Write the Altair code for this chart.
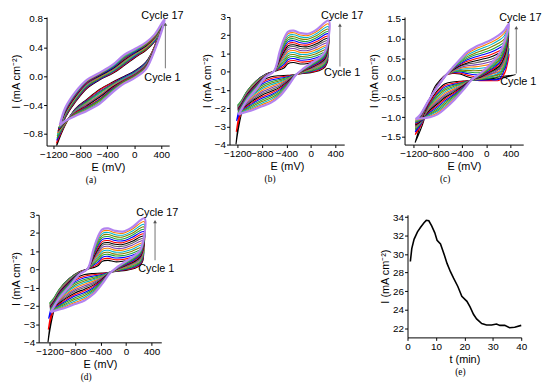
import altair as alt
import pandas as pd

FONT = "Liberation Sans"
Y_TITLE = "I (mA cm⁻²)"
E_TICKS = [-1200, -800, -400, 0, 400]
PALETTE = ["#000000", "#FF0000", "#0000FF", "#1FA33A", "#808000", "#00B5C8", "#FF8000", "#7A3FB0",
           "#606060", "#000000", "#FF0000", "#0000FF", "#1FA33A", "#808000", "#00B5C8", "#FF8000", "#B383F0"]

# ---------------- panel (a) ----------------
A_LT_E = [-1160, -1156, -1151, -1148, -1145, -1142, -1139, -1135, -1132, -1129, -1126, -1122, -1119, -1116, -1113, -1110, -1107]
A_LT_I = [-0.98, -0.93, -0.89, -0.86, -0.83, -0.81, -0.79, -0.77, -0.76, -0.75, -0.74, -0.73, -0.72, -0.71, -0.70, -0.69, -0.68]
A_RT_E = [357, 363, 370, 376, 383, 389, 394, 400, 405, 410, 416, 421, 426, 432, 437, 444, 450]
A_RT_I = [0.60, 0.61, 0.62, 0.63, 0.64, 0.65, 0.66, 0.67, 0.68, 0.69, 0.70, 0.71, 0.72, 0.74, 0.75, 0.77, 0.79]
A_UP_E = [-1027, -877, -705, -512, -319, -147, 13, 174, 303]
A_UP = [
    [-0.58, -0.57, -0.56, -0.55, -0.54, -0.53, -0.52, -0.51, -0.50, -0.50, -0.49, -0.48, -0.47, -0.46, -0.46, -0.45, -0.44],
    [-0.36, -0.35, -0.34, -0.33, -0.32, -0.31, -0.30, -0.29, -0.28, -0.28, -0.27, -0.26, -0.25, -0.24, -0.24, -0.23, -0.22],
    [-0.17, -0.16, -0.15, -0.14, -0.13, -0.12, -0.11, -0.11, -0.10, -0.09, -0.09, -0.08, -0.07, -0.07, -0.06, -0.06, -0.05],
    [-0.05, -0.04, -0.04, -0.03, -0.02, -0.01, -0.01, 0.00, 0.00, 0.01, 0.02, 0.02, 0.03, 0.03, 0.04, 0.04, 0.05],
    [0.04, 0.05, 0.06, 0.07, 0.08, 0.08, 0.09, 0.10, 0.10, 0.11, 0.12, 0.12, 0.13, 0.14, 0.14, 0.15, 0.16],
    [0.15, 0.16, 0.17, 0.18, 0.19, 0.20, 0.21, 0.22, 0.22, 0.23, 0.24, 0.25, 0.26, 0.27, 0.28, 0.29, 0.30],
    [0.26, 0.27, 0.28, 0.29, 0.30, 0.30, 0.31, 0.32, 0.32, 0.33, 0.34, 0.34, 0.35, 0.36, 0.36, 0.37, 0.38],
    [0.36, 0.37, 0.38, 0.38, 0.39, 0.40, 0.40, 0.41, 0.42, 0.42, 0.43, 0.44, 0.44, 0.45, 0.46, 0.46, 0.47],
    [0.48, 0.49, 0.49, 0.50, 0.51, 0.51, 0.52, 0.53, 0.53, 0.54, 0.54, 0.55, 0.55, 0.56, 0.57, 0.57, 0.58],
]
A_LO_E = [303, 174, 13, -147, -319, -512, -705, -877, -1027]
A_LO = [
    [0.42, 0.42, 0.41, 0.41, 0.41, 0.40, 0.40, 0.40, 0.39, 0.39, 0.39, 0.38, 0.38, 0.37, 0.37, 0.37, 0.36],
    [0.20, 0.19, 0.19, 0.18, 0.17, 0.17, 0.16, 0.16, 0.15, 0.14, 0.14, 0.13, 0.13, 0.12, 0.11, 0.11, 0.10],
    [0.08, 0.07, 0.07, 0.06, 0.05, 0.05, 0.04, 0.04, 0.03, 0.02, 0.02, 0.01, 0.01, 0.00, -0.01, -0.01, -0.02],
    [0.00, -0.01, -0.01, -0.02, -0.03, -0.03, -0.04, -0.04, -0.05, -0.06, -0.06, -0.07, -0.07, -0.08, -0.09, -0.09, -0.10],
    [-0.08, -0.09, -0.10, -0.11, -0.11, -0.12, -0.13, -0.14, -0.15, -0.15, -0.16, -0.17, -0.18, -0.19, -0.20, -0.21, -0.22],
    [-0.18, -0.19, -0.21, -0.22, -0.23, -0.24, -0.26, -0.27, -0.28, -0.29, -0.31, -0.32, -0.33, -0.34, -0.36, -0.37, -0.38],
    [-0.32, -0.33, -0.34, -0.35, -0.36, -0.37, -0.38, -0.39, -0.40, -0.41, -0.42, -0.43, -0.44, -0.45, -0.46, -0.47, -0.48],
    [-0.45, -0.46, -0.46, -0.47, -0.47, -0.48, -0.49, -0.49, -0.50, -0.51, -0.51, -0.52, -0.52, -0.53, -0.54, -0.54, -0.55],
    [-0.68, -0.67, -0.66, -0.66, -0.65, -0.65, -0.65, -0.64, -0.64, -0.64, -0.63, -0.63, -0.63, -0.63, -0.62, -0.62, -0.62],
]

# ---------------- panels (b) and (d) ----------------
B_LT_E = [-1225, -1220, -1215, -1200, -1199, -1198, -1197, -1196, -1195, -1194, -1193, -1192, -1191, -1190, -1189, -1187, -1185]
B_LT_I = [-4.0, -3.3, -2.7, -1.85, -1.9, -1.93, -1.97, -2.0, -2.04, -2.08, -2.12, -2.16, -2.2, -2.24, -2.28, -2.32, -2.36]
B_RT_E = [272, 272, 274, 274, 276, 276, 278, 278, 280, 280, 282, 282, 284, 284, 286, 288, 290]
B_RT_I = [0.70, 0.85, 0.98, 1.10, 1.22, 1.34, 1.46, 1.58, 1.70, 1.82, 1.95, 2.08, 2.20, 2.33, 2.47, 2.62, 2.80]
B_UP_E = [-1140, -1040, -890, -740, -600, -510, -440, -370, -280, -170, -50, 90]
B_UP = [
    [-2.0, -1.85, -1.7, -1.6, -1.65, -1.68, -1.72, -1.75, -1.78, -1.82, -1.86, -1.9, -1.94, -1.98, -2.02, -2.06, -2.1],
    [-1.10, -1.08, -1.07, -1.05, -1.08, -1.11, -1.14, -1.17, -1.21, -1.25, -1.29, -1.33, -1.37, -1.41, -1.45, -1.50, -1.55],
    [-0.50, -0.50, -0.50, -0.50, -0.53, -0.56, -0.59, -0.62, -0.65, -0.68, -0.72, -0.76, -0.79, -0.83, -0.87, -0.91, -0.95],
    [-0.14, -0.15, -0.16, -0.17, -0.18, -0.19, -0.20, -0.21, -0.22, -0.23, -0.24, -0.25, -0.26, -0.27, -0.28, -0.29, -0.30],
    [0.02, 0.02, 0.02, 0.02, 0.02, 0.03, 0.03, 0.03, 0.03, 0.03, 0.04, 0.04, 0.04, 0.04, 0.05, 0.05, 0.05],
    [0.10, 0.16, 0.23, 0.29, 0.35, 0.41, 0.48, 0.54, 0.60, 0.66, 0.73, 0.79, 0.85, 0.91, 0.98, 1.04, 1.10],
    [0.20, 0.30, 0.40, 0.50, 0.60, 0.70, 0.80, 0.90, 1.00, 1.10, 1.20, 1.30, 1.40, 1.50, 1.60, 1.70, 1.80],
    [0.45, 0.56, 0.67, 0.78, 0.89, 1.00, 1.11, 1.22, 1.33, 1.43, 1.54, 1.65, 1.76, 1.87, 1.98, 2.09, 2.20],
    [0.50, 0.61, 0.72, 0.83, 0.94, 1.05, 1.16, 1.27, 1.38, 1.48, 1.59, 1.70, 1.81, 1.92, 2.03, 2.14, 2.25],
    [0.42, 0.53, 0.63, 0.74, 0.84, 0.95, 1.06, 1.16, 1.27, 1.38, 1.48, 1.59, 1.69, 1.80, 1.91, 2.01, 2.12],
    [0.45, 0.55, 0.65, 0.76, 0.86, 0.96, 1.06, 1.16, 1.27, 1.37, 1.47, 1.57, 1.67, 1.78, 1.88, 1.98, 2.08],
    [0.55, 0.66, 0.77, 0.88, 0.99, 1.10, 1.21, 1.32, 1.43, 1.53, 1.64, 1.75, 1.86, 1.97, 2.08, 2.19, 2.30],
]
B_LO_E = [230, 130, 0, -130, -250, -380, -510, -650, -800, -950, -1100]
B_LO = [
    [0.25, 0.30, 0.36, 0.41, 0.46, 0.52, 0.57, 0.62, 0.68, 0.73, 0.78, 0.84, 0.89, 0.94, 0.99, 1.05, 1.10],
    [0.05, 0.09, 0.14, 0.18, 0.23, 0.27, 0.31, 0.36, 0.40, 0.44, 0.49, 0.53, 0.58, 0.62, 0.66, 0.71, 0.75],
    [-0.05, -0.02, 0.01, 0.04, 0.08, 0.11, 0.14, 0.17, 0.20, 0.23, 0.26, 0.29, 0.33, 0.36, 0.39, 0.42, 0.45],
    [-0.10, -0.08, -0.07, -0.05, -0.04, -0.02, -0.01, 0.01, 0.02, 0.04, 0.05, 0.07, 0.08, 0.10, 0.12, 0.13, 0.15],
    [-0.15, -0.15, -0.15, -0.16, -0.16, -0.16, -0.17, -0.17, -0.17, -0.18, -0.18, -0.18, -0.19, -0.19, -0.19, -0.20, -0.20],
    [-0.20, -0.24, -0.28, -0.32, -0.36, -0.39, -0.43, -0.47, -0.51, -0.55, -0.59, -0.63, -0.67, -0.70, -0.74, -0.78, -0.82],
    [-0.22, -0.29, -0.36, -0.43, -0.50, -0.57, -0.64, -0.71, -0.78, -0.86, -0.93, -1.00, -1.07, -1.14, -1.21, -1.28, -1.35],
    [-0.28, -0.37, -0.46, -0.55, -0.63, -0.72, -0.81, -0.90, -0.99, -1.08, -1.17, -1.26, -1.34, -1.43, -1.52, -1.61, -1.70],
    [-0.50, -0.59, -0.68, -0.76, -0.85, -0.94, -1.03, -1.11, -1.20, -1.29, -1.38, -1.46, -1.55, -1.64, -1.73, -1.81, -1.90],
    [-0.95, -1.02, -1.09, -1.17, -1.24, -1.31, -1.38, -1.45, -1.53, -1.60, -1.67, -1.74, -1.81, -1.89, -1.96, -2.03, -2.10],
    [-1.90, -1.85, -1.80, -1.72, -1.76, -1.80, -1.85, -1.89, -1.93, -1.98, -2.02, -2.06, -2.10, -2.14, -2.18, -2.22, -2.25],
]

# ---------------- panel (c) ----------------
C_LT_E = [-1175, -1174, -1173, -1172, -1172, -1171, -1171, -1171, -1170, -1170, -1170, -1170, -1169, -1169, -1169, -1168, -1168]
C_LT_I = [-1.65, -1.45, -1.38, -1.32, -1.30, -1.28, -1.26, -1.24, -1.22, -1.20, -1.18, -1.16, -1.14, -1.12, -1.10, -1.08, -1.05]
C_RT_E = [484, 378, 374, 370, 370, 370, 370, 370, 371, 371, 371, 371, 371, 372, 372, 372, 372]
C_RT_I = [0.08, 0.60, 0.75, 0.82, 0.87, 0.92, 0.97, 1.02, 1.06, 1.10, 1.14, 1.18, 1.22, 1.26, 1.30, 1.34, 1.38]
C_UP_E = [-1098, -973, -847, -764, -680, -558, -436, -313, -188, -58, 72, 202, 293]
C_UP = [
    [-1.25, -1.15, -1.10, -1.08, -1.07, -1.06, -1.05, -1.04, -1.03, -1.02, -1.01, -1.00, -0.99, -0.98, -0.97, -0.96, -0.95],
    [-0.70, -0.68, -0.67, -0.66, -0.66, -0.65, -0.65, -0.65, -0.64, -0.64, -0.64, -0.64, -0.63, -0.63, -0.63, -0.63, -0.63],
    [-0.22, -0.27, -0.28, -0.29, -0.29, -0.30, -0.30, -0.30, -0.30, -0.30, -0.31, -0.31, -0.31, -0.31, -0.31, -0.32, -0.32],
    [-0.06, -0.10, -0.11, -0.12, -0.12, -0.13, -0.13, -0.13, -0.13, -0.14, -0.14, -0.14, -0.14, -0.14, -0.14, -0.14, -0.14],
    [0.07, 0.06, 0.06, 0.05, 0.05, 0.05, 0.05, 0.05, 0.05, 0.05, 0.04, 0.04, 0.04, 0.04, 0.04, 0.04, 0.04],
    [0.11, 0.12, 0.13, 0.14, 0.15, 0.16, 0.17, 0.18, 0.19, 0.20, 0.21, 0.22, 0.22, 0.23, 0.24, 0.25, 0.26],
    [0.10, 0.12, 0.15, 0.17, 0.19, 0.21, 0.24, 0.26, 0.29, 0.31, 0.33, 0.35, 0.38, 0.40, 0.42, 0.45, 0.47],
    [0.03, 0.07, 0.11, 0.15, 0.19, 0.23, 0.27, 0.31, 0.35, 0.38, 0.42, 0.46, 0.50, 0.54, 0.58, 0.62, 0.66],
    [-0.02, 0.03, 0.08, 0.13, 0.18, 0.23, 0.28, 0.33, 0.38, 0.43, 0.48, 0.53, 0.58, 0.63, 0.68, 0.73, 0.78],
    [-0.03, 0.03, 0.08, 0.14, 0.19, 0.25, 0.31, 0.36, 0.42, 0.48, 0.53, 0.59, 0.64, 0.70, 0.76, 0.81, 0.87],
    [-0.02, 0.04, 0.10, 0.16, 0.22, 0.29, 0.35, 0.41, 0.47, 0.53, 0.59, 0.65, 0.71, 0.78, 0.84, 0.90, 0.96],
    [0.02, 0.09, 0.15, 0.22, 0.28, 0.35, 0.42, 0.48, 0.55, 0.62, 0.68, 0.75, 0.81, 0.88, 0.95, 1.01, 1.08],
    [0.04, 0.11, 0.19, 0.26, 0.33, 0.40, 0.48, 0.55, 0.62, 0.69, 0.77, 0.84, 0.91, 0.98, 1.06, 1.13, 1.20],
]
C_LO_E = [306, 215, 72, -84, -240, -375, -521, -680, -805, -931, -1056]
C_LO = [
    [0.01, 0.12, 0.25, 0.30, 0.35, 0.39, 0.44, 0.49, 0.54, 0.58, 0.63, 0.68, 0.72, 0.77, 0.82, 0.88, 0.95],
    [-0.02, -0.06, -0.03, 0.05, 0.09, 0.13, 0.18, 0.22, 0.26, 0.30, 0.35, 0.39, 0.43, 0.47, 0.52, 0.57, 0.62],
    [-0.04, -0.07, -0.05, 0.00, 0.03, 0.05, 0.08, 0.10, 0.13, 0.16, 0.18, 0.21, 0.24, 0.27, 0.29, 0.32, 0.35],
    [-0.05, -0.07, -0.06, -0.04, -0.03, -0.02, -0.01, 0.01, 0.02, 0.03, 0.05, 0.06, 0.07, 0.09, 0.10, 0.11, 0.13],
    [-0.06, -0.06, -0.06, -0.06, -0.06, -0.06, -0.05, -0.05, -0.05, -0.05, -0.05, -0.05, -0.05, -0.05, -0.05, -0.05, -0.05],
    [-0.08, -0.09, -0.11, -0.12, -0.14, -0.15, -0.16, -0.18, -0.19, -0.20, -0.22, -0.23, -0.25, -0.26, -0.27, -0.29, -0.30],
    [-0.10, -0.13, -0.16, -0.18, -0.21, -0.24, -0.27, -0.30, -0.32, -0.35, -0.38, -0.41, -0.44, -0.46, -0.49, -0.52, -0.55],
    [-0.15, -0.19, -0.23, -0.27, -0.31, -0.35, -0.39, -0.43, -0.47, -0.50, -0.54, -0.58, -0.62, -0.66, -0.70, -0.74, -0.78],
    [-0.32, -0.36, -0.40, -0.43, -0.47, -0.51, -0.55, -0.59, -0.63, -0.66, -0.70, -0.74, -0.78, -0.82, -0.85, -0.89, -0.93],
    [-0.62, -0.64, -0.67, -0.69, -0.72, -0.74, -0.76, -0.79, -0.81, -0.83, -0.86, -0.88, -0.91, -0.93, -0.95, -0.98, -1.00],
    [-1.20, -1.15, -1.12, -1.10, -1.09, -1.09, -1.08, -1.08, -1.07, -1.07, -1.06, -1.06, -1.05, -1.05, -1.04, -1.04, -1.03],
]

# ---------------- panel (e) ----------------
E_T = [1.0, 1.5, 2.3, 3.5, 4.6, 5.8, 6.6, 7.5, 8.5, 9.6, 10.4, 11.6, 12.8, 13.9, 15.1, 16.2, 17.7, 19.1,
       20.9, 22.0, 23.2, 24.3, 26.1, 27.8, 29.6, 31.3, 32.5, 34.2, 35.9, 37.7, 40.0]
E_I = [29.2, 30.6, 31.6, 32.4, 32.9, 33.4, 33.65, 33.6, 33.05, 32.3, 31.5, 31.1, 30.05, 29.0, 28.1, 27.4, 26.5, 25.45,
       24.9, 24.3, 23.5, 23.0, 22.5, 22.35, 22.35, 22.45, 22.3, 22.3, 22.05, 22.1, 22.3]

# annotation positions (E, I): Cycle 17 text, arrow x / top / bottom, Cycle 1 text
ANN = {
    "a": dict(e17=418, i17=0.79, ea=462, itop=0.72, ibot=0.11, e1=418, i1=-0.06),
    "b": dict(e17=512, i17=2.88, ea=475, itop=2.55, ibot=0.29, e1=512, i1=-0.26),
    "c": dict(e17=562, i17=1.44, ea=496, itop=1.28, ibot=0.11, e1=529, i1=-0.19),
    "d": dict(e17=492, i17=2.92, ea=457, itop=2.62, ibot=0.50, e1=477, i1=-0.13),
}


def cv_frame(up_e, up, lo_e, lo, lt_e, lt_i, rt_e, rt_i):
    rows = []
    for k in range(17):
        pts = [(lt_e[k], lt_i[k])]
        pts += [(e, up[j][k]) for j, e in enumerate(up_e)]
        pts.append((rt_e[k], rt_i[k]))
        pts += [(e, lo[j][k]) for j, e in enumerate(lo_e)]
        pts.append((lt_e[k], lt_i[k]))
        for n, (e, i) in enumerate(pts):
            rows.append({"cycle": k + 1, "n": n, "E": e, "I": i})
    return pd.DataFrame(rows)


def caption(text, dx):
    return alt.TitleParams(text, orient="bottom", anchor="middle", font="Liberation Serif",
                           fontSize=9.5, fontWeight="normal", color="black", dx=dx, offset=3)


def cv_panel(df, xdom, ydom, yvals, yfmt, w, h, ann, cap, dx):
    x = alt.X("E:Q", scale=alt.Scale(domain=xdom, nice=False, zero=False),
              axis=alt.Axis(values=E_TICKS, title="E (mV)", format="d"))
    y = alt.Y("I:Q", scale=alt.Scale(domain=ydom, nice=False, zero=False),
              axis=alt.Axis(values=yvals, format=yfmt, title=Y_TITLE))
    base = alt.Chart(df)
    lines = base.transform_filter("datum.cycle < 17").mark_line(
        interpolate="catmull-rom", strokeWidth=1.1, clip=True).encode(
        x=x, y=y,
        color=alt.Color("cycle:N", scale=alt.Scale(domain=list(range(1, 17)), range=PALETTE[:16]), legend=None),
        detail="cycle:N", order="n:Q")
    last = base.transform_filter("datum.cycle == 17").mark_line(
        interpolate="catmull-rom", strokeWidth=2.2, clip=True, color=PALETTE[16]).encode(
        x=x, y=y, order="n:Q")
    txt = pd.DataFrame({"E": [ann["e17"], ann["e1"]], "I": [ann["i17"], ann["i1"]],
                        "label": ["Cycle 17", "Cycle 1"]})
    texts = alt.Chart(txt).mark_text(font=FONT, fontSize=11, color="black", baseline="alphabetic").encode(
        x=x, y=y, text="label:N")
    arr = pd.DataFrame({"E": [ann["ea"]], "I": [ann["ibot"]], "I2": [ann["itop"]]})
    rule = alt.Chart(arr).mark_rule(color="#8a8a8a", strokeWidth=1.2).encode(x=x, y=y, y2="I2:Q")
    head = alt.Chart(arr).mark_point(shape="triangle-up", filled=True, size=14, color="#555555", opacity=1).encode(
        x=x, y=alt.Y("I2:Q", scale=alt.Scale(domain=ydom, nice=False, zero=False),
                     axis=alt.Axis(values=yvals, format=yfmt, title=Y_TITLE)))
    return alt.layer(lines, last, rule, head, texts).properties(width=w, height=h, title=caption(cap, dx))


df_a = cv_frame(A_UP_E, A_UP, A_LO_E, A_LO, A_LT_E, A_LT_I, A_RT_E, A_RT_I)
df_b = cv_frame(B_UP_E, B_UP, B_LO_E, B_LO, B_LT_E, B_LT_I, B_RT_E, B_RT_I)
df_c = cv_frame(C_UP_E, C_UP, C_LO_E, C_LO, C_LT_E, C_LT_I, C_RT_E, C_RT_I)

pa = cv_panel(df_a, [-1303, 518], [-0.96, 0.82], [-0.8, -0.4, 0.0, 0.4, 0.8], ".1f", 124, 130, ANN["a"], "(a)", -17)
pb = cv_panel(df_b, [-1330, 545], [-4, 3], [-4, -3, -2, -1, 0, 1, 2, 3], "d", 116, 129, ANN["b"], "(b)", -17)
pc = cv_panel(df_c, [-1350, 610], [-1.7, 1.55], [-1.5, -1.0, -0.5, 0.0, 0.5, 1.0, 1.5], ".1f", 120, 129, ANN["c"], "(c)", -19)
pd_ = cv_panel(df_b, [-1371, 555], [-4, 3], [-4, -3, -2, -1, 0, 1, 2, 3], "d", 124, 129, ANN["d"], "(d)", -14)

df_e = pd.DataFrame({"t": E_T, "I": E_I})
pe = alt.Chart(df_e).mark_line(color="black", strokeWidth=1.6).encode(
    x=alt.X("t:Q", scale=alt.Scale(domain=[0, 40], nice=False), axis=alt.Axis(values=[0, 10, 20, 30, 40], title="t (min)")),
    y=alt.Y("I:Q", scale=alt.Scale(domain=[21.0, 34.25], nice=False, zero=False),
            axis=alt.Axis(values=[22, 24, 26, 28, 30, 32, 34], title=Y_TITLE)),
).properties(width=115, height=124, title=caption("(e)", -4))


def spacer():
    return alt.Chart(pd.DataFrame({"v": [0]})).mark_point(opacity=0, size=0.01, strokeWidth=0).encode(
        x=alt.value(0), y=alt.value(0)).properties(width=1, height=1)


top_row = alt.hconcat(spacer(), alt.hconcat(pa, pb, pc, spacing=61, bounds="flush"), spacing=0)
bottom_row = alt.hconcat(spacer(), alt.hconcat(pd_, pe, spacing=249, bounds="flush"), spacing=0)

chart = alt.vconcat(top_row, bottom_row, spacing=22).properties(padding=0).configure_view(
    stroke=None).configure_axis(
    labelFont=FONT, titleFont=FONT, labelFontSize=10, titleFontSize=11, titleFontWeight="normal",
    labelColor="black", titleColor="black", domainColor="black", tickColor="black", grid=False,
    tickSize=3, labelPadding=1, titlePadding=2, labelOverlap=False, labelFlush=False, domainWidth=1, tickWidth=1)

chart.save("out.html", embed_options={"renderer": "svg", "actions": False})
